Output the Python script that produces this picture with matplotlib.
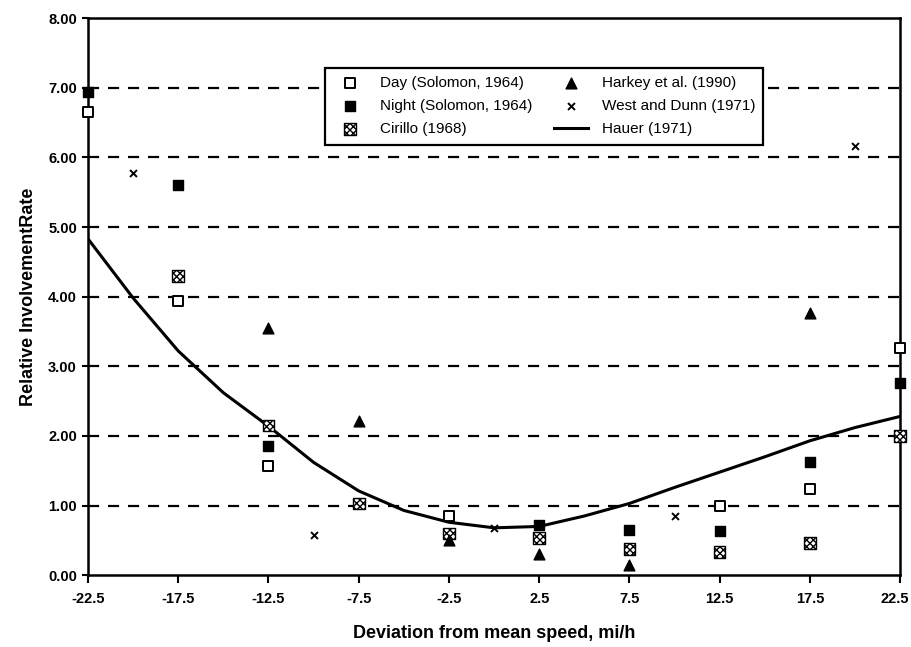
import matplotlib
matplotlib.use("Agg")
import matplotlib.pyplot as plt
import matplotlib.transforms as mtransforms

plt.rcParams['font.family'] = ['Liberation Sans', 'DejaVu Sans']

# data
day_x = [-22.5, -17.5, -12.5, -2.5, 12.5, 17.5, 22.5]
day_y = [6.65, 3.94, 1.57, 0.85, 1.00, 1.24, 3.26]

night_x = [-22.5, -17.5, -12.5, 2.5, 7.5, 12.5, 17.5, 22.5]
night_y = [6.94, 5.60, 1.85, 0.72, 0.65, 0.63, 1.62, 2.76]

cirillo_x = [-17.5, -12.5, -7.5, -2.5, 2.5, 7.5, 12.5, 17.5, 22.5]
cirillo_y = [4.30, 2.15, 1.03, 0.60, 0.53, 0.38, 0.33, 0.46, 2.00]

harkey_x = [-12.5, -7.5, -2.5, 2.5, 7.5, 17.5]
harkey_y = [3.55, 2.22, 0.50, 0.30, 0.14, 3.76]

west_x = [-20, -10, 0, 10, 20]
west_y = [5.77, 0.57, 0.68, 0.85, 6.16]

hauer_x = [-22.5, -20, -17.5, -15, -12.5, -10, -7.5, -5, -2.5, 0,
           2.5, 5, 7.5, 10, 12.5, 15, 17.5, 20, 22.5]
hauer_y = [4.83, 3.98, 3.22, 2.62, 2.14, 1.62, 1.21, 0.93, 0.76, 0.68,
           0.70, 0.85, 1.03, 1.26, 1.48, 1.70, 1.93, 2.12, 2.28]

xticks = [-22.5, -17.5, -12.5, -7.5, -2.5, 2.5, 7.5, 12.5, 17.5, 22.5]
yticks = [0, 1, 2, 3, 4, 5, 6, 7, 8]

fig = plt.figure(figsize=(9.12, 6.47), dpi=100)
ax = fig.add_axes([0.0965, 0.111, 0.8905, 0.861])

for yv in yticks[1:-1]:
    ax.axhline(yv, color='black', lw=1.6, ls=(0, (5, 4)), zorder=1)

ax.plot(hauer_x, hauer_y, color='black', lw=2.2, zorder=2, label='Hauer (1971)')
ax.scatter(day_x, day_y, marker='s', s=45, facecolor='white', edgecolor='black',
           linewidth=1.4, zorder=3, clip_on=False, label='Day (Solomon, 1964)')
ax.scatter(night_x, night_y, marker='s', s=45, facecolor='black', edgecolor='black',
           zorder=3, clip_on=False, label='Night (Solomon, 1964)')
ax.scatter(cirillo_x, cirillo_y, marker='s', s=70, facecolor='white', edgecolor='black',
           hatch='xxxxx', linewidth=1.0, zorder=3, clip_on=False, label='Cirillo (1968)')
ax.scatter(harkey_x, harkey_y, marker='^', s=60, facecolor='black', edgecolor='black',
           zorder=3, clip_on=False, label='Harkey et al. (1990)')
ax.scatter(west_x, west_y, marker='x', s=25, color='black', linewidth=1.4,
           zorder=3, clip_on=False, label='West and Dunn (1971)')

ax.set_xlim(-22.5, 22.5)
ax.set_ylim(0, 8)
ax.set_xticks(xticks)
ax.set_xticklabels([f'{v:g}' for v in xticks])
ax.set_yticks(yticks)
ax.set_yticklabels([f'{v:.2f}' for v in yticks])
ax.tick_params(axis='both', direction='out', width=1.5, labelsize=10.5, colors='black')
ax.tick_params(axis='x', length=6, pad=6)
ax.tick_params(axis='y', length=4, pad=4)
for lab in ax.get_xticklabels() + ax.get_yticklabels():
    lab.set_fontweight('bold')
# nudge the last x label so it stays inside the figure
last = ax.get_xticklabels()[-1]
last.set_transform(last.get_transform() +
                   mtransforms.ScaledTranslation(-5 / 100, 0, fig.dpi_scale_trans))
for sp in ax.spines.values():
    sp.set_linewidth(1.8)
    sp.set_color('black')

ax.set_xlabel('Deviation from mean speed, mi/h', fontsize=13, fontweight='bold', labelpad=14)
ax.set_ylabel('Relative InvolvementRate', fontsize=13, fontweight='bold', labelpad=8)

h, l = ax.get_legend_handles_labels()
order = [1, 2, 3, 4, 5, 0]
leg = ax.legend([h[i] for i in order], [l[i] for i in order], ncol=2,
                loc='upper left', bbox_to_anchor=(0.282, 0.925), fontsize=11,
                frameon=True, fancybox=False, edgecolor='black', framealpha=1,
                handlelength=2.2, handletextpad=0.9, columnspacing=1.4,
                borderpad=0.55, labelspacing=0.6)
leg.get_frame().set_linewidth(1.6)

fig.savefig('out.png', dpi=100)
